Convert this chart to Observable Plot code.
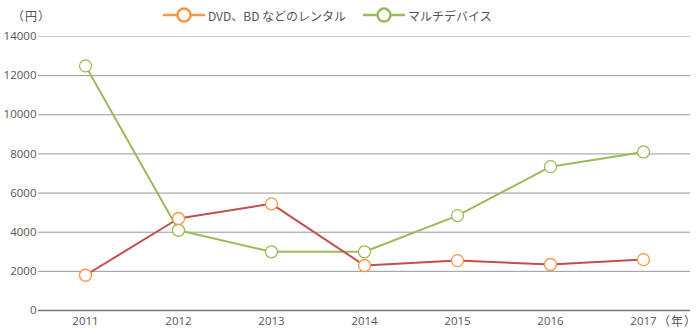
<!DOCTYPE html>
<html><head><meta charset="utf-8">
<script src="https://cdn.jsdelivr.net/npm/d3@7"></script>
<script src="https://cdn.jsdelivr.net/npm/@observablehq/plot@0.6"></script>
<style>
body{margin:0;background:#fff;font-family:"Open Sans","Noto Sans CJK JP",sans-serif;}
#wrap{position:relative;width:700px;height:336px;}
.lg{position:absolute;top:6px;font-size:12px;color:#555;font-family:"Noto Sans CJK JP","Open Sans",sans-serif;display:flex;align-items:center;}
.unit{position:absolute;font-size:12px;color:#555;font-family:"Noto Sans CJK JP",sans-serif;letter-spacing:1px;}
</style></head>
<body><div id="wrap"></div>
<script>
const years = ["2011","2012","2013","2014","2015","2016","2017"];
const rental = [1800, 4700, 5450, 2300, 2550, 2350, 2600];
const multi = [12500, 4100, 3000, 3000, 4850, 7350, 8100];
const seriesNames = ["DVD、BD などのレンタル", "マルチデバイス"];
const yTicks = [0, 2000, 4000, 6000, 8000, 10000, 12000, 14000];
const lineColors = ["#c0504d", "#9bbb59"];
const markColors = ["#f79646", "#9bbb59"];

const data = [];
years.forEach((y,i)=>{ data.push({year:y, value:rental[i], s:seriesNames[0]}); });
years.forEach((y,i)=>{ data.push({year:y, value:multi[i], s:seriesNames[1]}); });

const gridStroke = v => v===0 ? "#777" : (v===14000 ? "#ccc" : "#999");

const chart = Plot.plot({
  width:700, height:336,
  marginTop:36, marginBottom:26, marginLeft:38, marginRight:10,
  style:{fontFamily:"'Open Sans',sans-serif", fontSize:"11.5px", color:"#555", background:"#fff"},
  x:{type:"point", domain:years, padding:0.5, label:null},
  y:{domain:[0,14000], label:null},
  marks:[
    Plot.ruleY(yTicks, {stroke: d=>gridStroke(d), strokeWidth: d=> d===0?1.5:1}),
    Plot.axisY({ticks:yTicks, tickSize:0, tickPadding:2, tickFormat:d=>String(d), fill:"#555"}),
    Plot.axisX({tickSize:0, tickPadding:6, fill:"#555"}),
    Plot.line(data.filter(d=>d.s===seriesNames[1]), {x:"year", y:"value", stroke:lineColors[1], strokeWidth:2}),
    Plot.line(data.filter(d=>d.s===seriesNames[0]), {x:"year", y:"value", stroke:lineColors[0], strokeWidth:2}),
    Plot.dot(data.filter(d=>d.s===seriesNames[1]), {x:"year", y:"value", r:6, fill:"white", stroke:markColors[1], strokeWidth:1.3}),
    Plot.dot(data.filter(d=>d.s===seriesNames[0]), {x:"year", y:"value", r:6, fill:"white", stroke:markColors[0], strokeWidth:1.3})
  ]
});
const wrap = document.getElementById("wrap");
wrap.appendChild(chart);

function legendItem(left, name, color){
  const d = document.createElement("div");
  d.className="lg"; d.style.left=left+"px";
  d.innerHTML = `<svg width="44" height="18"><line x1="1" y1="9" x2="43" y2="9" stroke="${color}" stroke-width="2.5"/><circle cx="22" cy="9" r="6.5" fill="white" stroke="${color}" stroke-width="2.5"/></svg><span style="margin-left:2px">${name}</span>`;
  wrap.appendChild(d);
}
legendItem(162, seriesNames[0], markColors[0]);
legendItem(362, seriesNames[1], lineColors[1]);

const u1 = document.createElement("div"); u1.className="unit"; u1.textContent="（円）";
u1.style.left="12px"; u1.style.top="7px"; wrap.appendChild(u1);
const u2 = document.createElement("div"); u2.className="unit"; u2.textContent="（年）";
u2.style.left="658px"; u2.style.top="312px"; wrap.appendChild(u2);
</script></body></html>
